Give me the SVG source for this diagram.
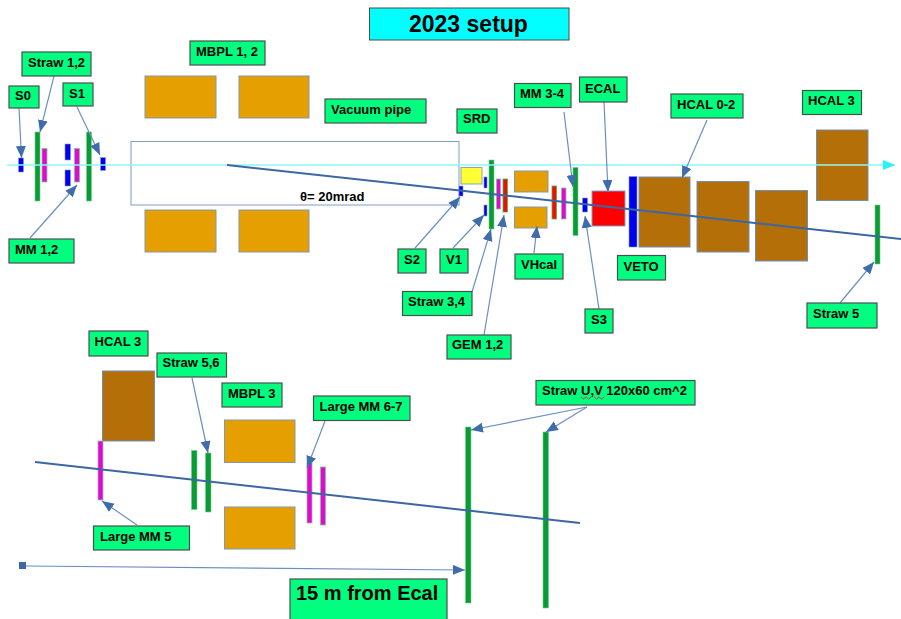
<svg xmlns="http://www.w3.org/2000/svg" width="901" height="619" viewBox="0 0 901 619">
<style>
text{font-family:"Liberation Sans",Arial,sans-serif;font-weight:bold;font-size:13px;fill:#000}
.l{fill:#00ff7f;stroke:#4a4f4d;stroke-width:1.2}
.mag{fill:#e5a000;stroke:#8497ad;stroke-width:1}
.hc{fill:#b46f08;stroke:#6f8fb5;stroke-width:1}
.gr{fill:#0b9a35;stroke:#6fd08a;stroke-width:.6}
.bl{fill:#0000ee;stroke:#7f9fd0;stroke-width:.6}
.mg{fill:#ee00dd;stroke:#6fd08a;stroke-width:.8}
.rd{fill:#ee1100;stroke:#4fb060;stroke-width:.8}
.a{stroke:#6a90c2;stroke-width:1.200;fill:none;marker-end:url(#ah)}
.b{stroke:#3c66a4;stroke-width:2;fill:none}
</style>
<defs>
<marker id="ah" markerUnits="userSpaceOnUse" markerWidth="14" markerHeight="12" refX="12" refY="5" orient="auto"><path d="M0 0L12 5L0 10Z" fill="#3f6cab"/></marker>
<marker id="cy" markerUnits="userSpaceOnUse" markerWidth="14" markerHeight="12" refX="12" refY="5" orient="auto"><path d="M0 0L12 5L0 10Z" fill="#22f5fb"/></marker>
</defs>
<rect width="901" height="619" fill="#fff"/>
<g id="shapes">
<rect x="131" y="141.500" width="328" height="63.500" fill="#fff" stroke="#7f9cc4" stroke-width="1"/>
<rect class="mag" x="145" y="76" width="71" height="42"/>
<rect class="mag" x="239" y="76" width="70" height="42"/>
<rect class="mag" x="145" y="210" width="71" height="42"/>
<rect class="mag" x="239" y="210" width="70" height="42"/>
<rect class="mag" x="514.500" y="171" width="33.500" height="21"/>
<rect class="mag" x="514.500" y="207" width="32.500" height="21"/>
<rect class="mag" x="224.500" y="420" width="70.500" height="42.500"/>
<rect class="mag" x="224.500" y="507" width="70.500" height="42"/>
<rect class="hc" x="639" y="177" width="51" height="70"/>
<rect class="hc" x="697" y="181.500" width="52" height="70.500"/>
<rect class="hc" x="755.500" y="190.500" width="52" height="70.500"/>
<rect class="hc" x="816.500" y="130" width="51.500" height="70.500"/>
<rect class="hc" x="102.500" y="371" width="52" height="70"/>
<rect x="461" y="167.500" width="21" height="16.500" fill="#ffff33" stroke="#8ba3b8"/>
<rect x="592" y="191" width="33" height="35" fill="#ff0000" stroke="#7f9fd0"/>
<rect class="bl" x="18.500" y="158" width="5" height="14"/>
<rect class="bl" x="65" y="144" width="5.500" height="16"/>
<rect class="bl" x="65" y="170" width="5.500" height="16"/>
<rect class="bl" x="100.500" y="157.500" width="5" height="13"/>
<rect class="bl" x="459" y="186" width="4" height="10"/>
<rect class="bl" x="484" y="177" width="3" height="11"/>
<rect class="bl" x="484" y="205" width="3" height="11"/>
<rect class="bl" x="582.500" y="198" width="5" height="14"/>
<rect class="bl" x="629" y="176.500" width="8" height="70.500"/>
<rect class="mg" x="42" y="148.500" width="5" height="33.500"/>
<rect class="mg" x="74.500" y="148.500" width="5" height="33.500"/>
<rect class="mg" x="496.500" y="179" width="4" height="30"/>
<rect class="rd" x="503" y="179" width="4.500" height="33"/>
<rect class="rd" x="552" y="186" width="4.500" height="33"/>
<rect class="mg" x="561.500" y="188" width="4.500" height="31"/>
<rect class="mg" x="98" y="441" width="5" height="59"/>
<rect class="mg" x="307" y="463" width="5" height="60"/>
<rect class="mg" x="320.500" y="467" width="5" height="58"/>
<rect class="gr" x="35" y="132" width="5" height="69"/>
<rect class="gr" x="86.500" y="132" width="5" height="69"/>
<rect class="gr" x="489" y="160" width="5" height="69"/>
<rect class="gr" x="573" y="167.500" width="5" height="68"/>
<rect class="gr" x="875" y="205" width="5" height="59"/>
<rect class="gr" x="191.500" y="450.500" width="5.500" height="59"/>
<rect class="gr" x="205.500" y="453" width="5.500" height="59"/>
<rect class="gr" x="465.500" y="427" width="5.500" height="176"/>
<rect class="gr" x="543" y="432" width="5.500" height="176"/>
<rect x="19" y="562" width="7" height="7" fill="#3c66a4"/>
</g>
<g id="connectors">
<path d="M7 165H895" stroke="#8ff5fa" stroke-width="1.500" fill="none" marker-end="url(#cy)"/>
<path class="b" d="M227 165L901 239"/>
<path class="b" d="M35 462L580 523"/>
<path class="a" d="M19 108L21.500 158"/>
<path class="a" d="M54 76L40 132"/>
<path class="a" d="M77 107L100 155"/>
<path class="a" d="M30 238L77 185"/>
<path class="a" d="M415 248L460 197"/>
<path class="a" d="M453 248L484 215"/>
<path class="a" d="M472 292L491 229"/>
<path class="a" d="M484 335L504 215"/>
<path class="a" d="M534 253L537 226"/>
<path class="a" d="M564 112L573 187"/>
<path class="a" d="M604 102L608 192"/>
<path class="a" d="M599 309L585 216"/>
<path class="a" d="M707 120L682 178"/>
<path class="a" d="M840 303L874 262"/>
<path class="a" d="M192 378L208 453"/>
<path class="a" d="M137 525L102 501"/>
<path class="a" d="M325 421L307 468"/>
<path class="a" d="M587 407L471 430"/>
<path class="a" d="M587 407L546 432"/>
<path class="a" d="M26 566L465 570"/>
</g>
<g id="n-title"><rect x="369.500" y="8" width="199.500" height="32" fill="#00ffff" stroke="#4a4f4d"/><text x="409" y="32" style="font-size:23px">2023 setup</text></g>
<g id="n-straw12"><rect class="l" x="22" y="52" width="69" height="24"/><text x="28" y="67">Straw 1,2</text></g>
<g id="n-s0"><rect class="l" x="9" y="86" width="30" height="22"/><text x="15" y="100">S0</text></g>
<g id="n-s1"><rect class="l" x="63" y="83" width="30" height="23"/><text x="69" y="98">S1</text></g>
<g id="n-mm12"><rect class="l" x="9" y="239" width="65" height="24"/><text x="15" y="254">MM 1,2</text></g>
<g id="n-mbpl12"><rect class="l" x="190" y="41" width="75" height="24"/><text x="196" y="56">MBPL 1, 2</text></g>
<g id="n-vac"><rect class="l" x="325" y="99" width="101" height="24"/><text x="331" y="114">Vacuum pipe</text></g>
<g id="n-theta"><text x="300" y="201">θ= 20mrad</text></g>
<g id="n-srd"><rect class="l" x="457" y="109" width="40" height="24"/><text x="463" y="123">SRD</text></g>
<g id="n-mm34"><rect class="l" x="514.500" y="83.500" width="56.500" height="24"/><text x="520" y="98">MM 3-4</text></g>
<g id="n-ecal"><rect class="l" x="579.500" y="77" width="47.500" height="25"/><text x="585" y="93">ECAL</text></g>
<g id="n-hcal02"><rect class="l" x="671" y="94" width="72" height="24"/><text x="677" y="109">HCAL 0-2</text></g>
<g id="n-hcal3a"><rect class="l" x="802.500" y="90.500" width="59" height="24"/><text x="808" y="105">HCAL 3</text></g>
<g id="n-s2"><rect class="l" x="398" y="249" width="28" height="24"/><text x="404" y="264">S2</text></g>
<g id="n-v1"><rect class="l" x="440" y="249" width="28" height="24"/><text x="446" y="264">V1</text></g>
<g id="n-vhcal"><rect class="l" x="515" y="254" width="48" height="25"/><text x="521" y="269">VHcal</text></g>
<g id="n-veto"><rect class="l" x="617.500" y="255.500" width="48" height="24.500"/><text x="623.500" y="271">VETO</text></g>
<g id="n-s3"><rect class="l" x="585" y="309" width="28" height="24"/><text x="591" y="324">S3</text></g>
<g id="n-straw34"><rect class="l" x="402.500" y="291.500" width="69.500" height="24"/><text x="408" y="306">Straw 3,4</text></g>
<g id="n-gem"><rect class="l" x="447" y="335" width="64" height="24"/><text x="452" y="349">GEM 1,2</text></g>
<g id="n-straw5"><rect class="l" x="807" y="303" width="70" height="25"/><text x="813" y="318">Straw 5</text></g>
<g id="n-hcal3b"><rect class="l" x="89" y="331" width="59" height="25"/><text x="94.500" y="346">HCAL 3</text></g>
<g id="n-straw56"><rect class="l" x="157" y="353" width="69.500" height="24"/><text x="162.500" y="367">Straw 5,6</text></g>
<g id="n-mbpl3"><rect class="l" x="222" y="383" width="60" height="24"/><text x="228" y="398">MBPL 3</text></g>
<g id="n-lmm67"><rect class="l" x="313.500" y="396" width="96.500" height="24.500"/><text x="319.500" y="411">Large MM 6-7</text></g>
<g id="n-lmm5"><rect class="l" x="93.500" y="526" width="96" height="24"/><text x="100" y="541">Large MM 5</text></g>
<g id="n-uv"><rect class="l" x="536" y="380.500" width="159" height="24.500"/><text x="542" y="395">Straw U,V 120x60 cm^2</text><path d="M581 397l2.500 2 2.500-2 2.500 2 2.500-2M594 397l2.500 2 2.500-2 2.500 2 2.500-2" fill="none" stroke="#d23c3c" stroke-width="1"/></g>
<g id="n-15m"><rect class="l" x="290" y="579" width="157" height="41"/><text x="296" y="600" style="font-size:20px">15 m from Ecal</text></g>
</svg>
